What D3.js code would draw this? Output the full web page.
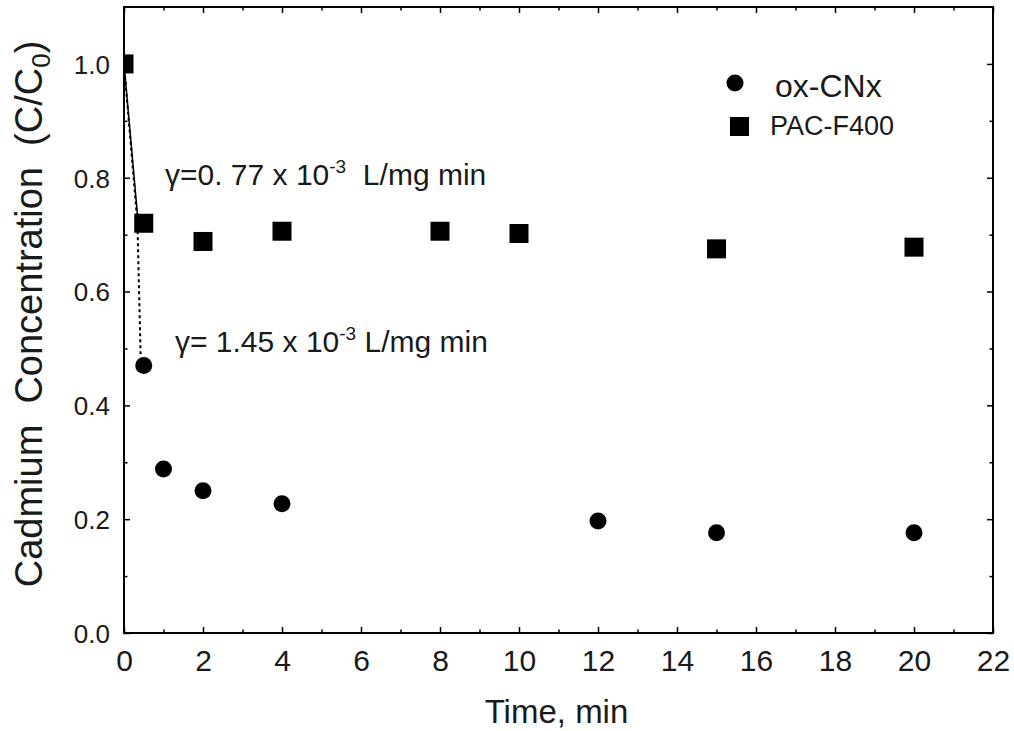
<!DOCTYPE html>
<html>
<head>
<meta charset="utf-8">
<script src="https://cdn.jsdelivr.net/npm/d3@7"></script>
<style>
	body { margin: 0; background: #fff; }
	svg { font-family: "Liberation Sans", Arial, sans-serif; }
	.axis line { stroke: #000; stroke-width: 1.5; }
	.axis path { display: none; }
	.axis text { fill: #1a1a1a; }
	text { white-space: pre; }
</style>
</head>
<body>
<div class="chart"></div>
<script>
var oxTime = [0, 0.5, 1, 2, 4, 12, 15, 20];
var oxConc = [1.0, 0.47, 0.288, 0.25, 0.227, 0.197, 0.176, 0.176];

var pacTime = [0, 0.5, 2, 4, 8, 10, 15, 20];
var pacConc = [1.0, 0.72, 0.688, 0.706, 0.706, 0.702, 0.675, 0.678];

// fitted initial rate lines
var oxFitTime = [0, 0.34, 0.42];
var oxFitConc = [1.0, 0.72, 0.49];
var pacFitTime = [0, 0.36];
var pacFitConc = [1.0, 0.72];

var xTicks = [0, 2, 4, 6, 8, 10, 12, 14, 16, 18, 20, 22];
var xMinor = [1, 3, 5, 7, 9, 11, 13, 15, 17, 19, 21];
var yTicks = [0, 0.2, 0.4, 0.6, 0.8, 1.0];
var yMinor = [0.1, 0.3, 0.5, 0.7, 0.9];

var ox = oxTime.map(function(t, i){ return {t: t, c: oxConc[i]}; });
var pac = pacTime.map(function(t, i){ return {t: t, c: pacConc[i]}; });
var oxFit = oxFitTime.map(function(t, i){ return {t: t, c: oxFitConc[i]}; });
var pacFit = pacFitTime.map(function(t, i){ return {t: t, c: pacFitConc[i]}; });

var width = 1014, height = 731;
var margin = {top: 7, right: 21, bottom: 98, left: 124};

var svg = d3.select(".chart").append("svg")
	.attr("width", width)
	.attr("height", height);

var w = width - margin.left - margin.right;
var h = height - margin.top - margin.bottom;

var x = d3.scaleLinear().domain([0, 22]).range([0, w]);
var y = d3.scaleLinear().domain([0, 1.1]).range([h, 0]);

var g = svg.append("g").attr("transform", "translate(" + margin.left + "," + margin.top + ")");

g.append("defs").append("clipPath").attr("id", "plot-clip")
	.append("rect").attr("width", w).attr("height", h);

// axes, ticks pointing inward on all four sides
g.append("g").attr("class", "x axis")
	.attr("transform", "translate(0," + h + ")")
	.call(d3.axisBottom(x).tickValues(xTicks).tickSizeInner(-6).tickSizeOuter(0).tickPadding(17))
	.selectAll("text").style("font-size", "30px");
g.append("g").attr("class", "x axis minor")
	.attr("transform", "translate(0," + h + ")")
	.call(d3.axisBottom(x).tickValues(xMinor).tickSize(-3.5).tickFormat(""));
g.append("g").attr("class", "x axis")
	.call(d3.axisTop(x).tickValues(xTicks).tickSize(-6).tickFormat(""));
g.append("g").attr("class", "x axis minor")
	.call(d3.axisTop(x).tickValues(xMinor).tickSize(-3.5).tickFormat(""));

g.append("g").attr("class", "y axis")
	.call(d3.axisLeft(y).tickValues(yTicks).tickSizeInner(-6).tickSizeOuter(0).tickPadding(14).tickFormat(d3.format(".1f")))
	.selectAll("text").style("font-size", "26px").attr("dy", "0.36em");
g.append("g").attr("class", "y axis minor")
	.call(d3.axisLeft(y).tickValues(yMinor).tickSize(-3.5).tickFormat(""));
g.append("g").attr("class", "y axis")
	.attr("transform", "translate(" + w + ",0)")
	.call(d3.axisRight(y).tickValues(yTicks).tickSize(-6).tickFormat(""));
g.append("g").attr("class", "y axis minor")
	.attr("transform", "translate(" + w + ",0)")
	.call(d3.axisRight(y).tickValues(yMinor).tickSize(-3.5).tickFormat(""));

g.append("rect")
	.attr("width", w).attr("height", h)
	.style("fill", "none").style("stroke", "#000").style("stroke-width", 2);

var line = d3.line().x(d => x(d.t)).y(d => y(d.c));

var plot = g.append("g").attr("clip-path", "url(#plot-clip)");

plot.append("path").datum(pacFit)
	.attr("d", line)
	.style("fill", "none").style("stroke", "#000").style("stroke-width", 1.5);

plot.append("path").datum(oxFit)
	.attr("d", line)
	.style("fill", "none").style("stroke", "#000").style("stroke-width", 2)
	.style("stroke-dasharray", "3,3");

plot.selectAll("circle.ox").data(ox).enter().append("circle")
	.attr("class", "ox")
	.attr("cx", d => x(d.t)).attr("cy", d => y(d.c))
	.attr("r", 8.5)
	.style("fill", "#000");

var sq = 19;
plot.selectAll("rect.pac").data(pac).enter().append("rect")
	.attr("class", "pac")
	.attr("x", d => x(d.t) - sq / 2).attr("y", d => y(d.c) - sq / 2)
	.attr("width", sq).attr("height", sq)
	.style("fill", "#000");

// legend
svg.append("circle").attr("cx", 735).attr("cy", 83).attr("r", 8.5).style("fill", "#000");
svg.append("text").attr("x", 775).attr("y", 97)
	.style("font-size", "32px").style("fill", "#1a1a1a").text("ox-CNx");
svg.append("rect").attr("x", 730).attr("y", 117).attr("width", sq).attr("height", sq).style("fill", "#000");
svg.append("text").attr("x", 770).attr("y", 135)
	.style("font-size", "27px").style("fill", "#1a1a1a").text("PAC-F400");

// rate constant labels
function rateLabel(xp, yp, head, tail) {
	var t = svg.append("text").attr("x", xp).attr("y", yp)
		.style("font-size", "30px").style("fill", "#1a1a1a");
	t.append("tspan").text(head);
	t.append("tspan").attr("dy", -12).style("font-size", "19px").text("-3");
	t.append("tspan").attr("dy", 12).text(tail);
}
rateLabel(165, 185, "\u03b3=0. 77 x 10", "  L/mg min");
rateLabel(175, 352, "\u03b3= 1.45 x 10", " L/mg min");

// axis titles
svg.append("text")
	.attr("x", margin.left + w / 2 - 2).attr("y", 723)
	.attr("text-anchor", "middle")
	.style("font-size", "33px").style("fill", "#1a1a1a")
	.text("Time, min");

var yt = svg.append("text")
	.attr("transform", "translate(42,314) rotate(-90)")
	.attr("text-anchor", "middle")
	.style("font-size", "38px").style("fill", "#1a1a1a");
yt.append("tspan").text("Cadmium  Concentration  (C/C");
yt.append("tspan").attr("dy", 8).style("font-size", "26px").text("0");
yt.append("tspan").attr("dy", -8).text(")");
</script>
</body>
</html>
